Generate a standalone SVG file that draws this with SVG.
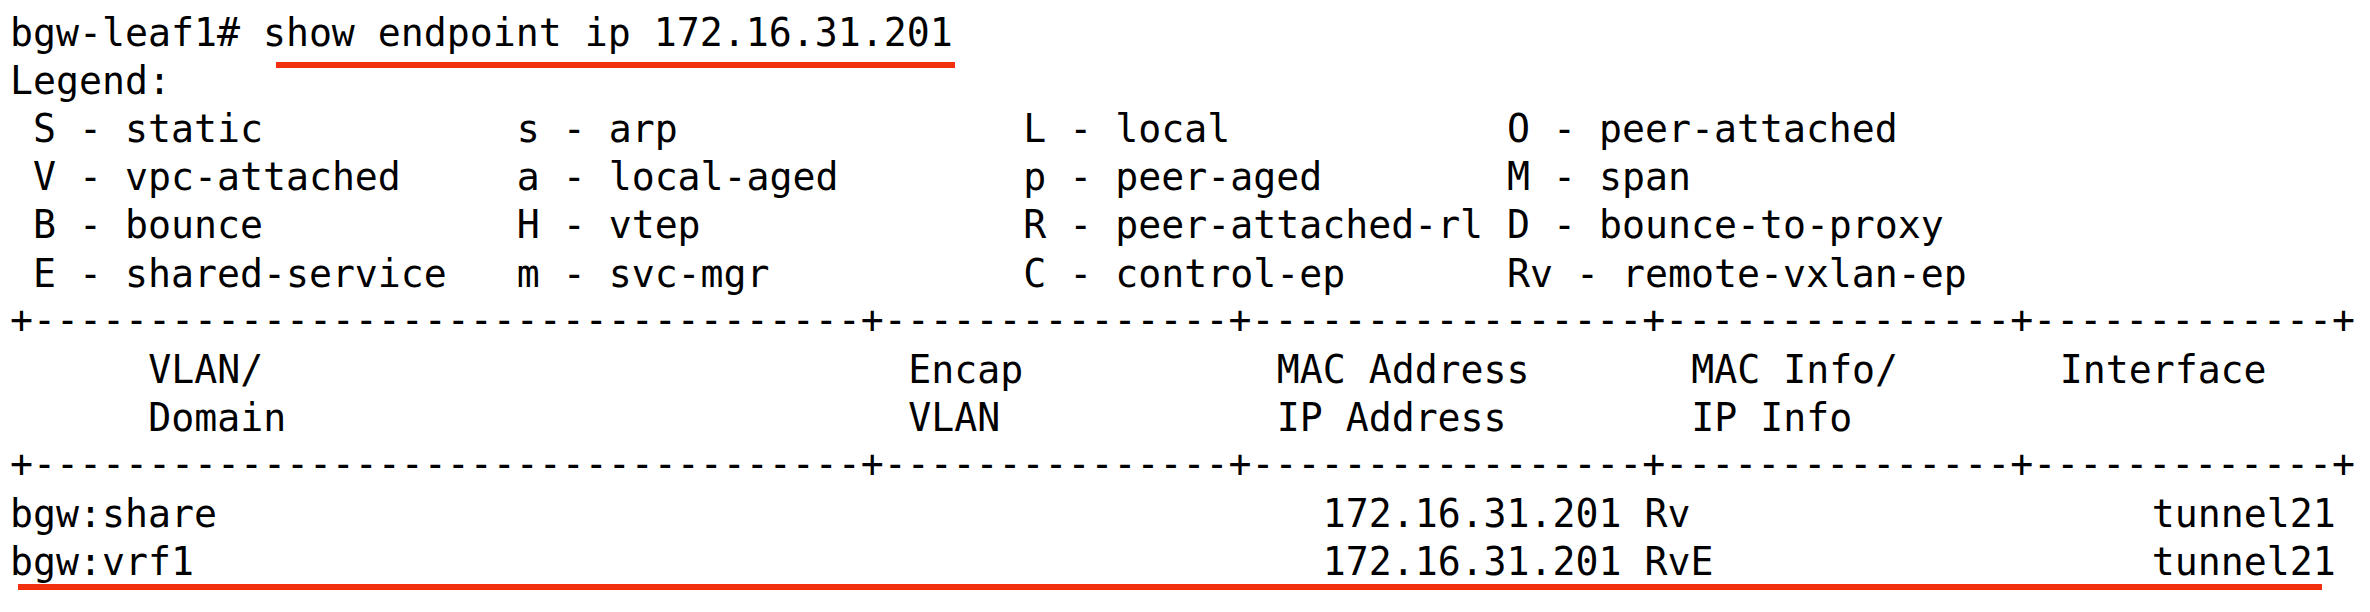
<svg xmlns="http://www.w3.org/2000/svg" width="2370" height="612" viewBox="0 0 2370 612">
<style>
text{font-family:"DejaVu Sans Mono","Liberation Mono",monospace;font-size:38.2px;fill:#000;white-space:pre}
.u{stroke:#f2300f;stroke-width:6}
</style>
<rect width="2370" height="612" fill="#fff"/>
<g id="prompt"><text x="10" y="46" xml:space="preserve">bgw-leaf1# show endpoint ip 172.16.31.201</text></g>
<g id="legend">
<text x="10" y="94">Legend:</text>
<text y="142"><tspan x="33">S - static</tspan><tspan x="516.7">s - arp</tspan><tspan x="1023.3">L - local</tspan><tspan x="1507">O - peer-attached</tspan></text>
<text y="190"><tspan x="33">V - vpc-attached</tspan><tspan x="516.7">a - local-aged</tspan><tspan x="1023.3">p - peer-aged</tspan><tspan x="1507">M - span</tspan></text>
<text y="238"><tspan x="33">B - bounce</tspan><tspan x="516.7">H - vtep</tspan><tspan x="1023.3">R - peer-attached-rl</tspan><tspan x="1507">D - bounce-to-proxy</tspan></text>
<text y="287"><tspan x="33">E - shared-service</tspan><tspan x="516.7">m - svc-mgr</tspan><tspan x="1023.3">C - control-ep</tspan><tspan x="1507">Rv - remote-vxlan-ep</tspan></text>
</g>
<g id="table">
<text x="10" y="333">+------------------------------------+---------------+-----------------+---------------+-------------+</text>
<text y="383"><tspan x="148.2">VLAN/</tspan><tspan x="908.2">Encap</tspan><tspan x="1276.7">MAC Address</tspan><tspan x="1691.2">MAC Info/</tspan><tspan x="2059.7">Interface</tspan></text>
<text y="431"><tspan x="148.2">Domain</tspan><tspan x="908.2">VLAN</tspan><tspan x="1276.7">IP Address</tspan><tspan x="1691.2">IP Info</tspan></text>
<text x="10" y="477">+------------------------------------+---------------+-----------------+---------------+-------------+</text>
<text y="527"><tspan x="10">bgw:share</tspan><tspan x="1322.7">172.16.31.201 Rv</tspan><tspan x="2151.8">tunnel21</tspan></text>
<text y="575"><tspan x="10">bgw:vrf1</tspan><tspan x="1322.7">172.16.31.201 RvE</tspan><tspan x="2151.8">tunnel21</tspan></text>
</g>
<g id="connectors">
<line class="u" x1="276" y1="65" x2="955" y2="65"/>
<line class="u" x1="18" y1="587" x2="2322" y2="587"/>
</g>
</svg>
